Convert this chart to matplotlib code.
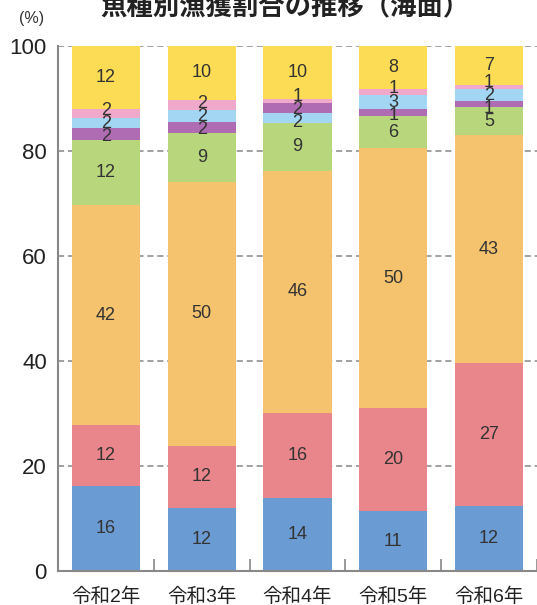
import matplotlib
matplotlib.use('Agg')
import matplotlib.pyplot as plt
import numpy as np

plt.rcParams['font.family'] = ['Liberation Sans', 'Noto Sans CJK JP']

years = ['令和2年', '令和3年', '令和4年', '令和5年', '令和6年']

# share (%) of each species group, per year
s_blue = [16.1, 11.9, 13.8, 11.3, 12.3]
s_red = [11.6, 11.9, 16.2, 19.6, 27.3]
s_orange = [42.0, 50.3, 46.2, 49.6, 43.3]
s_green = [12.3, 9.3, 9.1, 6.1, 5.4]
s_purple = [2.4, 2.0, 1.9, 1.4, 1.1]
s_lblue = [1.9, 2.4, 1.8, 2.6, 2.4]
s_pink = [1.7, 1.8, 0.8, 1.1, 0.8]
s_yellow = [12.0, 10.4, 10.2, 8.3, 7.4]

series = {
    'blue': (s_blue, '#6b9bd3'),
    'red': (s_red, '#e9868b'),
    'orange': (s_orange, '#f5c36d'),
    'green': (s_green, '#b8d67c'),
    'purple': (s_purple, '#b06cb3'),
    'lblue': (s_lblue, '#a3d6f2'),
    'pink': (s_pink, '#f1a9cb'),
    'yellow': (s_yellow, '#fcdc55'),
}
default_order = ['blue', 'red', 'orange', 'green', 'purple', 'lblue', 'pink', 'yellow']
# 令和4年 stacks light blue below purple
orders = [default_order] * 5
orders[2] = ['blue', 'red', 'orange', 'green', 'lblue', 'purple', 'pink', 'yellow']


def spread(pos, gap, n_iter=200):
    # push overlapping labels apart, keeping the group centred
    pos = list(pos)
    for _ in range(n_iter):
        moved = False
        for i in range(len(pos) - 1):
            d = pos[i + 1] - pos[i]
            if d < gap:
                s = (gap - d) / 2
                pos[i] -= s
                pos[i + 1] += s
                moved = True
        if not moved:
            break
    return pos


fig = plt.figure(figsize=(5.37, 6.05), dpi=100)
ax = fig.add_axes([0.108, 0.0567, 0.892, 0.8678])

x = np.arange(len(years))
width = 0.71
for i in range(len(years)):
    bottom = 0
    centers, texts = [], []
    for key in orders[i]:
        vals, col = series[key]
        v = vals[i]
        ax.bar(x[i], v, width, bottom=bottom, color=col, edgecolor='none', zorder=2)
        centers.append(bottom + v / 2)
        texts.append(str(int(round(v))))
        bottom += v
    ypos = spread(centers, 2.5)
    for yp, t in zip(ypos, texts):
        ax.text(x[i], yp, t, ha='center', va='center', fontsize=13,
                color='#333333', zorder=3)

ax.set_xlim(-0.5, 4.5)
ax.set_ylim(0, 100)
ax.set_yticks([0, 20, 40, 60, 80, 100])
ax.yaxis.grid(True, linestyle=(0, (4, 2.5)), color='#888888', linewidth=1.1, zorder=0)
ax.set_axisbelow(True)
ax.tick_params(axis='y', length=0, pad=8, labelsize=16, labelcolor='#222222')

ax.set_xticks(x)
ax.set_xticklabels(years, fontsize=14, color='#222222')
ax.set_xticks(np.arange(0.5, 5, 1), minor=True)
ax.tick_params(axis='x', which='major', length=0, pad=12)
ax.tick_params(axis='x', which='minor', direction='in', length=9,
               color='#888888', width=1.2)

for sp in ['top', 'right']:
    ax.spines[sp].set_visible(False)
for sp in ['left', 'bottom']:
    ax.spines[sp].set_color('#888888')
    ax.spines[sp].set_linewidth(1.5)

fig.text(0.058, 1 - 19 / 605, '(%)', ha='center', va='center', fontsize=11.5, color='#333333')
fig.text(0.53, 1 - 15 / 605, '魚種別漁獲割合の推移（海面）', ha='center', va='baseline',
         fontsize=19, fontweight='bold', color='#222222',
         family=['Noto Sans CJK JP'])

fig.savefig('out.png', dpi=100)
